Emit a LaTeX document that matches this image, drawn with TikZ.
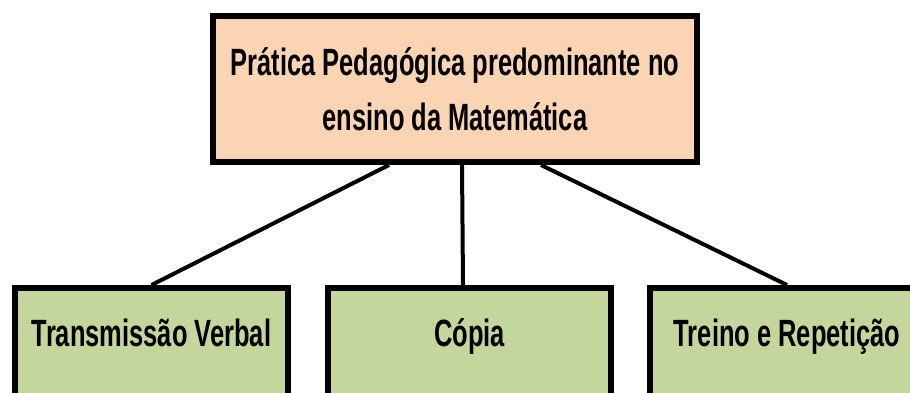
\documentclass[tikz,border=0pt]{standalone}
\usepackage{fontspec}
\setmainfont{Liberation Sans}[FakeStretch=0.67]
\definecolor{peach}{HTML}{FBD4B4}
\definecolor{olivegreen}{HTML}{C3D69B}
\tikzset{
  box/.style={draw=black, line width=3pt, align=center,
    font=\bfseries\fontsize{19}{27.5}\selectfont},
  topbox/.style={box, fill=peach, minimum width=242pt, minimum height=73pt},
  leafbox/.style={box, fill=olivegreen, anchor=north, minimum height=54pt,
    text height=14pt, text depth=10pt}
}
\begin{document}
\begin{tikzpicture}[x=0.5pt,y=-0.5pt]
      \useasboundingbox (0,0) rectangle (910,392);
      \node[topbox] (pratica) at (455,89)
        {Prática Pedagógica predominante no\\ensino da Matemática};
      \node[leafbox, minimum width=136.5pt] (transmissao) at (151.5,285) {Transmissão Verbal};
      \node[leafbox, minimum width=141.5pt] (copia) at (469.5,285) {Cópia};
      \node[leafbox, minimum width=137pt] (treino) at (787,285) {Treino e Repetição};
      \begin{scope}[line width=2pt]
        \draw ([xshift=-33pt]pratica.south) to (transmissao.north);
        \draw ([xshift=3.5pt]pratica.south) to ([xshift=-3.25pt]copia.north);
        \draw ([xshift=43pt]pratica.south) to (treino.north);
      \end{scope}
    \end{tikzpicture}
\end{document}
